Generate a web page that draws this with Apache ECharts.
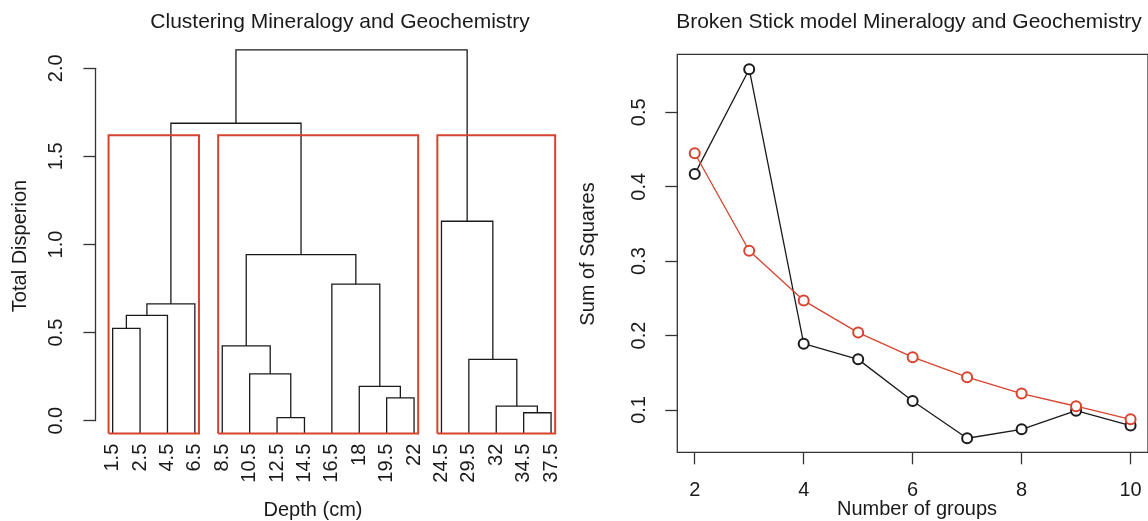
<!DOCTYPE html>
<html>
<head>
<meta charset="utf-8">
<title>Clustering and Broken Stick</title>
<script src="https://cdn.jsdelivr.net/npm/echarts@6/dist/echarts.min.js"></script>
<style>
  html, body { margin: 0; padding: 0; background: #fff; }
  #main { width: 1148px; height: 521px; }
</style>
</head>
<body>
<div id="main"></div>
<script>
// leaves in plotted order (depth, cm)
const leafLabels = ['1.5', '2.5', '4.5', '6.5', '8.5', '10.5', '12.5', '14.5', '16.5', '18', '19.5', '22', '24.5', '29.5', '32', '34.5', '37.5']
// hclust style merges: negative = leaf position, positive = earlier merge row
const mergeLeft = [-7, -16, -15, -11, -10, -6, -14, -5, -1, 9, 10, -9, 8, -13, 11, 15]
const mergeRight = [-8, -17, 2, -12, 4, 1, 3, 6, -2, -3, -4, 5, 12, 7, 13, 14]
const mergeHeight = [0.017, 0.045, 0.083, 0.129, 0.195, 0.266, 0.348, 0.425, 0.524, 0.598, 0.663, 0.775, 0.943, 1.132, 1.688, 2.105]
const leafBottom = -0.072
// three groups cut from the tree
const groupStart = [1, 5, 13]
const groupEnd = [4, 12, 17]
const cutHeight = 1.62

// broken stick panel
const groups = [2, 3, 4, 5, 6, 7, 8, 9, 10]
const sumSquares = [0.417, 0.558, 0.189, 0.168, 0.112, 0.062, 0.074, 0.099, 0.079]
const brokenStick = [0.445, 0.314, 0.247, 0.204, 0.171, 0.144, 0.122, 0.105, 0.0875]
const xTicks = [2, 4, 6, 8, 10]
const yTicks = [0.1, 0.2, 0.3, 0.4, 0.5]

const FONT = 'Liberation Sans, Arial, Helvetica, sans-serif'
const INK = '#1a1a1a'
const RED = '#d8432e'

// build the dendrogram segments
const nodeX = []
const nodeH = []
const childPos = c => (c < 0 ? [-c, leafBottom] : [nodeX[c - 1], nodeH[c - 1]])
const treeLines = mergeHeight.map((h, i) => {
  const [xl, hl] = childPos(mergeLeft[i])
  const [xr, hr] = childPos(mergeRight[i])
  nodeX[i] = (xl + xr) / 2
  nodeH[i] = h
  return { coords: [[xl, hl], [xl, h], [xr, h], [xr, hr]] }
})
const boxLines = groupStart.map((s, i) => {
  const l = s - 0.15
  const r = groupEnd[i] + 0.15
  return { coords: [[l, leafBottom], [l, cutHeight], [r, cutHeight], [r, leafBottom], [l, leafBottom]] }
})
const leafIdx = leafLabels.map((d, i) => i + 1)

const chart = echarts.init(document.getElementById('main'))

const textStyle = { fontFamily: FONT, fontSize: 20, color: INK }

const option = {
  animation: false,
  backgroundColor: '#fff',
  textStyle: { fontFamily: FONT },
  grid: [
    { left: 95.4, top: 68.3, width: 472.1, height: 352.4 },
    { left: 677.3, top: 54.3, width: 473.2, height: 398, show: true, borderColor: '#333', borderWidth: 1.3, backgroundColor: 'transparent' }
  ],
  xAxis: [
    {
      gridIndex: 0,
      type: 'value',
      min: 0.37,
      max: 17.6,
      axisLine: { show: false },
      axisTick: { show: false },
      splitLine: { show: false },
      axisLabel: {
        ...textStyle,
        customValues: leafIdx,
        rotate: 90,
        margin: 23,
        formatter: v => leafLabels[Math.round(v) - 1] || ''
      }
    },
    {
      gridIndex: 1,
      type: 'value',
      min: 1.68,
      max: 10.32,
      axisLine: { show: false },
      axisTick: { customValues: xTicks, length: 12, lineStyle: { color: '#333', width: 1.3 } },
      splitLine: { show: false },
      axisLabel: { ...textStyle, customValues: xTicks, margin: 28 }
    }
  ],
  yAxis: [
    {
      gridIndex: 0,
      type: 'value',
      min: 0,
      max: 2,
      interval: 0.5,
      axisLine: { show: true, lineStyle: { color: '#333', width: 1.3 } },
      axisTick: { show: true, length: 12, lineStyle: { color: '#333', width: 1.3 } },
      splitLine: { show: false },
      axisLabel: { ...textStyle, rotate: 90, margin: 29, formatter: v => v.toFixed(1) }
    },
    {
      gridIndex: 1,
      type: 'value',
      min: 0.0431,
      max: 0.578,
      axisLine: { show: false },
      axisTick: { customValues: yTicks, length: 12, lineStyle: { color: '#333', width: 1.3 } },
      splitLine: { show: false },
      axisLabel: { ...textStyle, customValues: yTicks, rotate: 90, margin: 27.5, formatter: v => v.toFixed(1) }
    }
  ],
  graphic: [
    { type: 'text', x: 340, y: 22.5, style: { text: 'Clustering Mineralogy and Geochemistry', font: '21px ' + FONT, fill: INK, align: 'center', verticalAlign: 'middle' } },
    { type: 'text', x: 909, y: 22.5, style: { text: 'Broken Stick model Mineralogy and Geochemistry', font: '21px ' + FONT, fill: INK, align: 'center', verticalAlign: 'middle' } },
    { type: 'text', x: 20.5, y: 246, rotation: Math.PI / 2, style: { text: 'Total Disperion', font: '20px ' + FONT, fill: INK, align: 'center', verticalAlign: 'middle' } },
    { type: 'text', x: 588.5, y: 254, rotation: Math.PI / 2, style: { text: 'Sum of Squares', font: '20px ' + FONT, fill: INK, align: 'center', verticalAlign: 'middle' } },
    { type: 'text', x: 313, y: 510, style: { text: 'Depth (cm)', font: '20px ' + FONT, fill: INK, align: 'center', verticalAlign: 'middle' } },
    { type: 'text', x: 917, y: 509, style: { text: 'Number of groups', font: '20px ' + FONT, fill: INK, align: 'center', verticalAlign: 'middle' } }
  ],
  series: [
    {
      // 树
      type: 'lines',
      coordinateSystem: 'cartesian2d',
      xAxisIndex: 0,
      yAxisIndex: 0,
      polyline: true,
      clip: false,
      silent: true,
      lineStyle: { color: INK, width: 1.3, opacity: 1 },
      data: treeLines
    },
    {
      // 分组框
      type: 'lines',
      coordinateSystem: 'cartesian2d',
      xAxisIndex: 0,
      yAxisIndex: 0,
      polyline: true,
      clip: false,
      silent: true,
      z: 3,
      lineStyle: { color: RED, width: 2, opacity: 1 },
      data: boxLines
    },
    {
      name: 'sum of squares',
      type: 'line',
      xAxisIndex: 1,
      yAxisIndex: 1,
      symbol: 'emptyCircle',
      symbolSize: 10,
      lineStyle: { color: INK, width: 1.3 },
      itemStyle: { color: INK, borderWidth: 1.3 },
      data: groups.map((g, i) => [g, sumSquares[i]])
    },
    {
      name: 'broken stick',
      type: 'line',
      xAxisIndex: 1,
      yAxisIndex: 1,
      symbol: 'emptyCircle',
      symbolSize: 10,
      lineStyle: { color: RED, width: 1.3 },
      itemStyle: { color: RED, borderWidth: 1.3 },
      data: groups.map((g, i) => [g, brokenStick[i]])
    }
  ]
}

chart.setOption(option)
</script>
</body>
</html>
